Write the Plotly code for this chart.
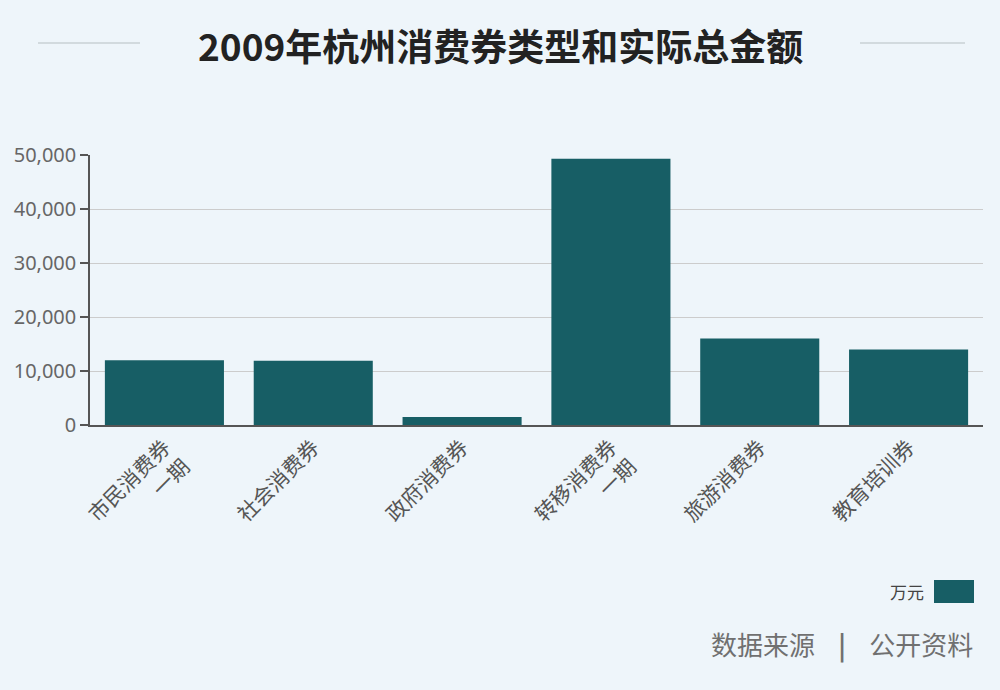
import plotly.graph_objects as go

categories = ["市民消费券<br>一期", "社会消费券", "政府消费券", "转移消费券<br>一期", "旅游消费券", "教育培训券"]
values = [12000, 11900, 1500, 49300, 16000, 14000]
tick_vals = [0, 10000, 20000, 30000, 40000, 50000]
tick_text = ["0", "10,000", "20,000", "30,000", "40,000", "50,000"]
series_name = "万元"
title_text = "2009年杭州消费券类型和实际总金额"
source_text = "数据来源&nbsp;&nbsp;&nbsp;&nbsp;<b>|</b>&nbsp;&nbsp;&nbsp;&nbsp;公开资料"

BG = "#eef5fa"
BAR = "#175e65"
FONT = "Noto Sans, Noto Sans CJK SC, sans-serif"
CJK = "Noto Sans CJK SC, sans-serif"

pl, pr, pt, pb = 90, 983, 155, 425
def px(x):
    return (x - pl) / (pr - pl)
def py(y):
    return (pb - y) / (pb - pt)

fig = go.Figure()
fig.add_trace(go.Bar(x=categories, y=values, name=series_name,
                     marker=dict(color=BAR, line=dict(width=0)),
                     showlegend=False))

fig.update_layout(
    width=1000, height=690,
    paper_bgcolor=BG, plot_bgcolor=BG,
    margin=dict(l=pl, r=1000 - pr, t=pt, b=690 - pb),
    bargap=0.2,
    font=dict(family=FONT, color="#555555"),
    xaxis=dict(tickangle=-45, tickfont=dict(size=21, color="#555555", family=CJK),
               showline=True, linecolor="#555555", linewidth=1.5,
               ticks="", showgrid=False),
    yaxis=dict(range=[0, 50000], tickvals=tick_vals, ticktext=tick_text,
               tickfont=dict(size=20, color="#666666"),
               showline=True, linecolor="#555555", linewidth=1.5,
               ticks="outside", ticklen=8, tickcolor="#555555", tickwidth=1.5,
               showgrid=True, gridcolor="#cccccc", gridwidth=1,
               zeroline=False),
    annotations=[
        dict(text="<b>" + title_text + "</b>", x=px(500), y=py(45),
             xref="paper", yref="paper", showarrow=False, xanchor="center", yanchor="middle",
             font=dict(size=37, color="#222222", family=CJK)),
        dict(text=series_name, x=px(926), y=py(591), xref="paper", yref="paper",
             showarrow=False, xanchor="right", yanchor="middle",
             font=dict(size=17, color="#444444", family=CJK)),
        dict(text=source_text, x=px(975), y=py(644), xref="paper", yref="paper",
             showarrow=False, xanchor="right", yanchor="middle",
             font=dict(size=26, color="#707070", family=CJK)),
    ],
)

fig.add_shape(type="line", xref="paper", yref="paper", x0=px(38), x1=px(140), y0=py(43), y1=py(43),
              line=dict(color="#c9d0d4", width=1.5))
fig.add_shape(type="line", xref="paper", yref="paper", x0=px(860), x1=px(965), y0=py(43), y1=py(43),
              line=dict(color="#c9d0d4", width=1.5))
fig.add_shape(type="rect", xref="paper", yref="paper", x0=px(934), x1=px(974), y0=py(580), y1=py(603),
              line=dict(color=BAR, width=0), fillcolor=BAR)

fig.write_html("out.html", config={"displayModeBar": False},
               post_script="document.body.style.margin='0';document.body.style.background='%s';" % BG)
